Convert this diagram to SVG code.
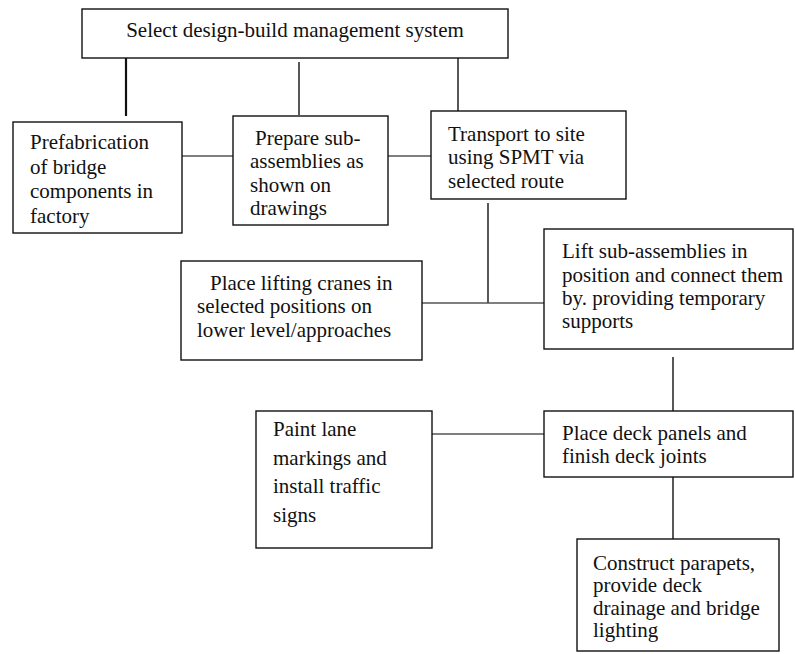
<svg xmlns="http://www.w3.org/2000/svg" width="795" height="654" viewBox="0 0 795 654">
  <style>
    .box { fill: #ffffff; stroke: #111111; stroke-width: 1.4; }
    .lbl { font-family: 'Liberation Serif', 'Times New Roman', Times, 'DejaVu Serif', serif; font-size: 21px; fill: #111111; }
    .v { stroke: #111111; stroke-width: 1.4; fill: none; }
    .vb { stroke: #111111; stroke-width: 2.2; fill: none; }
    .h { stroke: #555555; stroke-width: 1.5; fill: none; }
  </style>
  <rect width="795" height="654" fill="#ffffff"/>

  <!-- connectors -->
  <g id="connectors">
    <line class="vb" x1="126" y1="58" x2="126" y2="116"/>
    <line class="v" x1="299" y1="62" x2="299" y2="115"/>
    <line class="v" x1="458" y1="53" x2="458" y2="111"/>
    <line class="h" x1="182" y1="156" x2="233" y2="156"/>
    <line class="h" x1="388" y1="156" x2="431" y2="156"/>
    <line class="v" x1="488" y1="203" x2="488" y2="303"/>
    <line class="h" x1="422" y1="303" x2="544" y2="303"/>
    <line class="v" x1="673" y1="357" x2="673" y2="413"/>
    <line class="h" x1="432" y1="434" x2="544" y2="434"/>
    <line class="v" x1="673" y1="476" x2="673" y2="539"/>
  </g>

  <g id="select-system">
    <rect class="box" x="82" y="9" width="426" height="49"/>
    <text class="lbl" x="295" y="37" text-anchor="middle" font-family="Liberation Serif, serif">Select design-build management system</text>
  </g>

  <g id="prefabrication">
    <rect class="box" x="13" y="122" width="169" height="111"/>
    <text class="lbl" x="30" y="149">Prefabrication</text>
    <text class="lbl" x="30" y="173.5">of bridge</text>
    <text class="lbl" x="30" y="198">components in</text>
    <text class="lbl" x="30" y="222.5">factory</text>
  </g>

  <g id="prepare-subassemblies">
    <rect class="box" x="233" y="116" width="155" height="109"/>
    <text class="lbl" x="255" y="145">Prepare sub-</text>
    <text class="lbl" x="250" y="168">assemblies as</text>
    <text class="lbl" x="250" y="192">shown on</text>
    <text class="lbl" x="250" y="215">drawings</text>
  </g>

  <g id="transport">
    <rect class="box" x="431" y="111" width="195" height="88"/>
    <text class="lbl" x="448" y="141">Transport to site</text>
    <text class="lbl" x="448" y="164">using SPMT via</text>
    <text class="lbl" x="448" y="188">selected route</text>
  </g>

  <g id="lifting-cranes">
    <rect class="box" x="181" y="261" width="241" height="99"/>
    <text class="lbl" x="210" y="290">Place lifting cranes in</text>
    <text class="lbl" x="197" y="313">selected positions on</text>
    <text class="lbl" x="197" y="337">lower level/approaches</text>
  </g>

  <g id="lift-subassemblies">
    <rect class="box" x="544" y="229" width="249" height="120"/>
    <text class="lbl" x="562" y="258">Lift sub-assemblies in</text>
    <text class="lbl" x="562" y="282">position and connect them</text>
    <text class="lbl" x="562" y="305">by. providing temporary</text>
    <text class="lbl" x="562" y="328">supports</text>
  </g>

  <g id="paint-markings">
    <rect class="box" x="256" y="411" width="176" height="137"/>
    <text class="lbl" x="273" y="436">Paint lane</text>
    <text class="lbl" x="273" y="465">markings and</text>
    <text class="lbl" x="273" y="493">install traffic</text>
    <text class="lbl" x="273" y="522">signs</text>
  </g>

  <g id="deck-panels">
    <rect class="box" x="544" y="411" width="249" height="66"/>
    <text class="lbl" x="562" y="440">Place deck panels and</text>
    <text class="lbl" x="562" y="463">finish deck joints</text>
  </g>

  <g id="parapets">
    <rect class="box" x="577" y="539" width="202" height="112"/>
    <text class="lbl" x="593" y="570">Construct parapets,</text>
    <text class="lbl" x="593" y="592">provide deck</text>
    <text class="lbl" x="593" y="615">drainage and bridge</text>
    <text class="lbl" x="593" y="637">lighting</text>
  </g>
</svg>
